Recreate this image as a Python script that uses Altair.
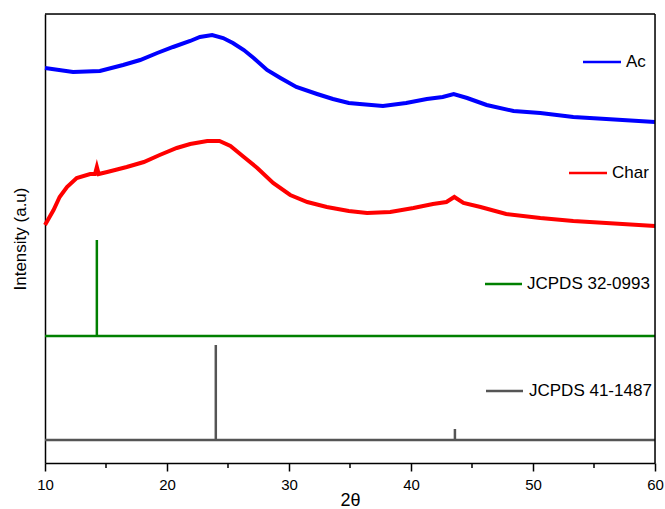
import altair as alt
import pandas as pd

# ---- data ----
ac_2theta = [10, 12.3, 14.5, 16.4, 17.8, 19.2, 20.5, 21.9, 22.7, 23.7, 24.6, 25.4, 26.3, 27.1,
             28.2, 29.3, 30.6, 32.3, 33.6, 34.9, 35.8, 37.7, 39.6, 41.3, 42.6, 43.5, 44.6,
             46.2, 48.4, 50.6, 53.3, 56.0, 60]
ac_int = [395, 391, 392, 398, 403, 410, 416, 422, 426, 428, 425, 420, 413, 405,
          393, 385, 376, 369, 364, 360, 359, 357, 360, 364, 366, 369, 365,
          358, 352, 350, 346, 344, 341]

char_2theta = [10, 10.7, 11.2, 11.8, 12.6, 13.7, 14.1, 14.25, 14.4, 15.1, 16.7, 18.1, 19.4,
               20.8, 21.9, 23.3, 24.3, 25.2, 26.3, 27.4, 28.7, 30.1, 31.5, 33.1, 34.9,
               36.4, 38.3, 40.2, 41.8, 42.9, 43.55, 44.3, 45.7, 47.8, 50.6, 53.3, 56.0, 60]
char_int = [238, 253, 266, 276, 285, 289, 289, 296, 289, 291, 296, 301, 308,
            315, 319, 322, 322, 317, 306, 295, 280, 268, 261, 256, 252,
            250, 251, 255, 259, 261, 266, 260, 256, 249, 245, 242, 240, 237]

jc32_base = 127
jc32_peaks = [14.25]
jc32_tops = [223]

jc41_base = 23
jc41_peaks = [24.0, 43.6]
jc41_tops = [118, 34]

x_range = [10, 60]
major_ticks = [10, 20, 30, 40, 50, 60]
minor_ticks = [15, 25, 35, 45, 55]

labels = ["Ac", "Char", "JCPDS 32-0993", "JCPDS 41-1487"]
colors = ["#0000FF", "#FF0000", "#008000", "#555555"]

# ---- tables ----
ac_df = pd.DataFrame({"t": ac_2theta, "i": ac_int})
char_df = pd.DataFrame({"t": char_2theta, "i": char_int})
base_df = pd.DataFrame({
    "t": x_range * 2,
    "i": [jc32_base] * 2 + [jc41_base] * 2,
    "s": ["JCPDS 32-0993"] * 2 + ["JCPDS 41-1487"] * 2,
})
stick_df = pd.DataFrame({
    "t": jc32_peaks + jc41_peaks,
    "b": [jc32_base] * len(jc32_peaks) + [jc41_base] * len(jc41_peaks),
    "top": jc32_tops + jc41_tops,
    "s": ["JCPDS 32-0993"] * len(jc32_peaks) + ["JCPDS 41-1487"] * len(jc41_peaks),
})
minor_df = pd.DataFrame({"t": minor_ticks})

W, H = 610, 449
xs = alt.Scale(domain=x_range, nice=False, zero=False)
ys = alt.Scale(domain=[0, 449], nice=False, zero=False)
cs = alt.Scale(domain=labels, range=colors)

x_enc = alt.X("t:Q", scale=xs,
              axis=alt.Axis(values=major_ticks, title="2θ", tickSize=8, format="d",
                            labelFlush=False, labelPadding=6, labelFontSize=15,
                            titleFontSize=18, titlePadding=-1))
y_enc = alt.Y("i:Q", scale=ys,
              axis=alt.Axis(title="Intensity (a.u)", labels=False, ticks=False, titlePadding=16))

base = alt.Chart(base_df).mark_line(strokeWidth=2.5).encode(
    x=x_enc, y=y_enc,
    color=alt.Color("s:N", scale=cs, legend=None), detail="s:N")

sticks = alt.Chart(stick_df).mark_rule(strokeWidth=2.5).encode(
    x=alt.X("t:Q", scale=xs), y=alt.Y("b:Q", scale=ys), y2="top:Q",
    color=alt.Color("s:N", scale=cs, legend=None))

red = alt.Chart(char_df).mark_line(strokeWidth=4, color="#FF0000").encode(
    x=alt.X("t:Q", scale=xs), y=alt.Y("i:Q", scale=ys))
blue = alt.Chart(ac_df).mark_line(strokeWidth=4, color="#0000FF").encode(
    x=alt.X("t:Q", scale=xs), y=alt.Y("i:Q", scale=ys))

minor = alt.Chart(minor_df).mark_rule(strokeWidth=1.5, color="black").encode(
    x=alt.X("t:Q", scale=xs), y=alt.value(H), y2=alt.value(H + 5))

frame_df = pd.DataFrame({"k": [0]})
frame_top = alt.Chart(frame_df).mark_rule(strokeWidth=1.5, color="black").encode(
    x=alt.value(0), x2=alt.value(W), y=alt.value(0))
frame_right = alt.Chart(frame_df).mark_rule(strokeWidth=1.5, color="black").encode(
    x=alt.value(W), y=alt.value(0), y2=alt.value(H))

# inline legend (layout positions in pixels of the plot area)
leg_layout = [  # x0, x1, y, text x
    (538, 576, 48, 581),
    (524, 562, 159, 567),
    (440, 477, 270, 482),
    (441, 478, 377, 484),
]
legend_layers = []
for lab, col, (x0, x1, yy, tx) in zip(labels, colors, leg_layout):
    d = pd.DataFrame({"lab": [lab]})
    legend_layers.append(alt.Chart(d).mark_rule(strokeWidth=2.5, color=col).encode(
        x=alt.value(x0), x2=alt.value(x1), y=alt.value(yy)))
    legend_layers.append(alt.Chart(d).mark_text(align="left", baseline="middle", fontSize=17,
                                                font="Liberation Sans", color="black").encode(
        x=alt.value(tx), y=alt.value(yy), text="lab:N"))

chart = alt.layer(base, sticks, red, blue, minor, frame_top, frame_right, *legend_layers).properties(
    width=W, height=H,
    autosize=alt.AutoSizeParams(type="none"),
    padding={"left": 45, "top": 14, "right": 10, "bottom": 46},
    background="white",
).configure_view(stroke=None).configure(font="Liberation Sans").configure_axis(
    grid=False, domainColor="black", domainWidth=1.5, tickColor="black", tickWidth=1.5,
    labelFontSize=16, labelColor="black", labelFont="Liberation Sans",
    titleFontSize=17, titleFontWeight="normal", titleColor="black", titleFont="Liberation Sans",
)

chart.save("out.html", embed_options={"renderer": "svg", "actions": False})
